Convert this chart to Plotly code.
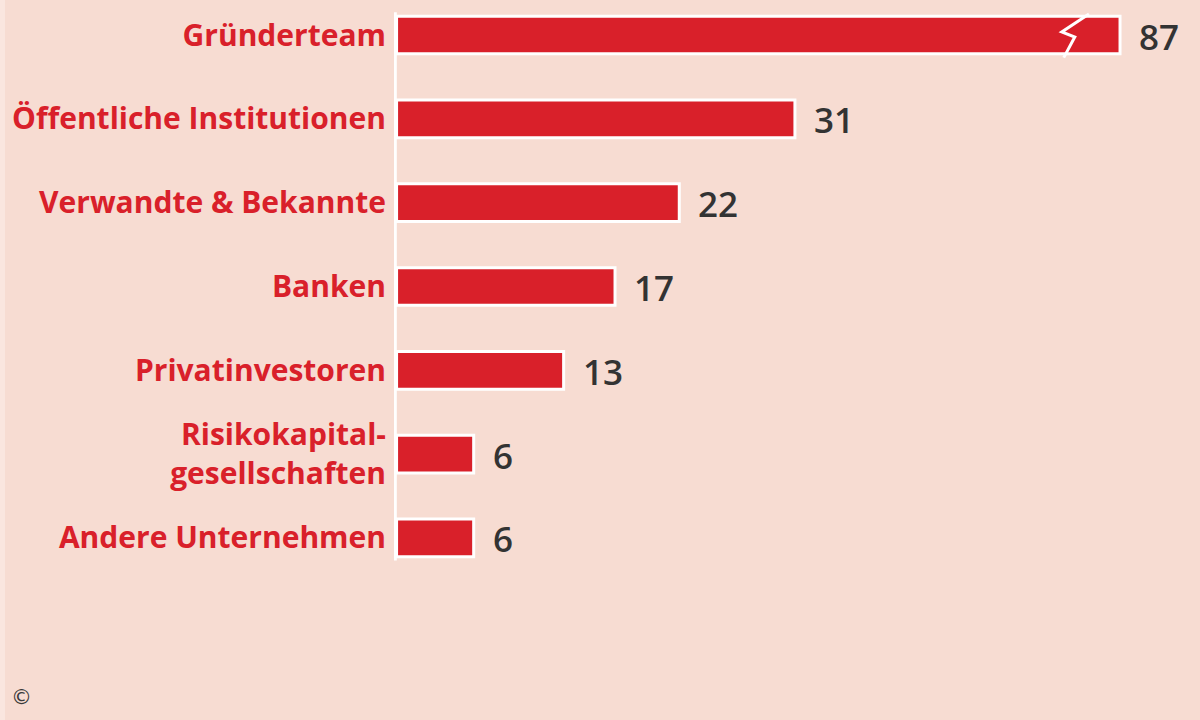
import plotly.graph_objects as go

# ---- data ----
categories = [
    "Gründerteam",
    "Öffentliche Institutionen",
    "Verwandte & Bekannte",
    "Banken",
    "Privatinvestoren",
    "Risikokapital-<br>gesellschaften",
    "Andere Unternehmen",
]
values = [87, 31, 22, 17, 13, 6, 6]
value_labels = [str(v) for v in values]

# the first bar is drawn with an axis break
BREAK_CAP = 56.3

BG = "#f7dcd2"
RED = "#d9202a"
TXT = "#333333"

display_values = [min(v, BREAK_CAP) for v in values]
idx = list(range(len(categories)))

W, H = 1200, 720
px_per_unit = 12.85
x0 = -0.2
margin_l = 394
plot_w = W - margin_l
x1 = x0 + plot_w / px_per_unit

spacing = 83.83
top_v = -35 / spacing
bot_v = top_v + H / spacing


def px_to_paper_x(p):
    return (p - margin_l) / plot_w


def px_to_paper_y(p):
    return (H - p) / H


fig = go.Figure()
fig.add_trace(go.Bar(
    x=display_values,
    y=idx,
    orientation="h",
    marker=dict(color=RED, line=dict(color="white", width=3)),
    width=0.45,
    hoverinfo="skip",
    cliponaxis=False,
))

# value labels
for i, (dv, lab) in enumerate(zip(display_values, value_labels)):
    fig.add_annotation(
        x=dv, y=i, xref="x", yref="y", text=lab, showarrow=False,
        xanchor="left", yanchor="middle", xshift=17, yshift=-1,
        font=dict(family="Open Sans", size=35, color=TXT, weight=600),
    )

# white vertical axis line from first bar to last bar
fig.add_shape(type="line", xref="x", yref="y", x0=-0.1, x1=-0.1,
              y0=-0.27, y1=len(categories) - 1 + 0.27,
              line=dict(color="white", width=3), layer="above")

# break zig-zag on the first bar
zx = [-2.42, -4.53, -3.52, -4.38]
zy = [-0.25, -0.036, 0.024, 0.27]
path = "M {} {}".format(BREAK_CAP + zx[0], zy[0])
for a, b in zip(zx[1:], zy[1:]):
    path += " L {} {}".format(BREAK_CAP + a, b)
fig.add_shape(type="path", xref="x", yref="y", path=path,
              line=dict(color="white", width=3), layer="above")

# copyright mark
fig.add_annotation(x=px_to_paper_x(21), y=px_to_paper_y(697), xref="paper", yref="paper",
                   text="©", showarrow=False,
                   font=dict(family="DejaVu Sans", size=21, color="#3a3a3a"),
                   xanchor="center", yanchor="middle")

# light left edge strip
fig.add_shape(type="rect", xref="paper", yref="paper",
              x0=px_to_paper_x(0), x1=px_to_paper_x(5), y0=0, y1=1,
              fillcolor="#fae6df", line=dict(width=0), layer="below")

fig.update_layout(
    width=W, height=H,
    margin=dict(l=margin_l, r=0, t=0, b=0),
    paper_bgcolor=BG, plot_bgcolor=BG,
    showlegend=False,
    xaxis=dict(range=[x0, x1], visible=False, fixedrange=True),
    yaxis=dict(
        range=[bot_v, top_v],
        tickmode="array", tickvals=idx, ticktext=categories,
        tickfont=dict(family="Open Sans", size=30, color=RED, weight="bold"),
        showgrid=False, zeroline=False, showline=False,
        ticks="outside", ticklen=0, ticklabelstandoff=1,
        fixedrange=True,
    ),
)

fig.write_html("out.html", config={"displayModeBar": False},
               post_script="document.body.style.margin='0';document.body.style.overflow='hidden';")
